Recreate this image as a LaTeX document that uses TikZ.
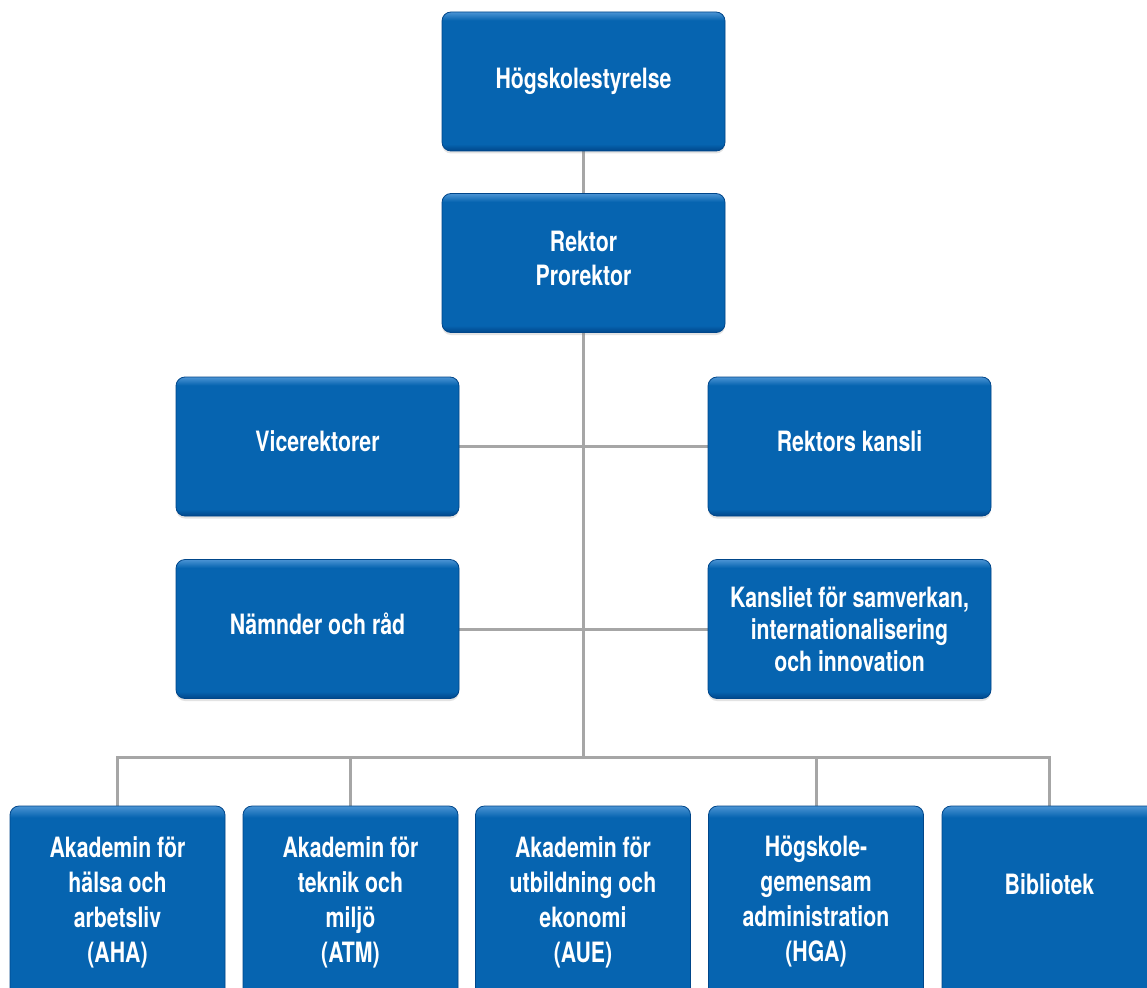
\documentclass[tikz,border=0pt]{standalone}
\usepackage{fontspec}
\newfontfamily\orgfont{TeX Gyre Heros}[FakeStretch=0.76]
\usetikzlibrary{shadows}

\definecolor{orgblue}{RGB}{6,100,176}
\definecolor{orgtop}{RGB}{75,148,212}
\definecolor{orgbot}{RGB}{0,70,138}
\definecolor{linkgray}{RGB}{166,166,166}

% box fill: thin light rim on top, thin dark rim at the bottom
\pgfdeclareverticalshading{orgshade}{100bp}{color(0bp)=(orgbot); color(25bp)=(orgbot); color(27.5bp)=(orgblue); color(72bp)=(orgblue); color(75bp)=(orgtop); color(100bp)=(orgtop)}

\tikzset{
  orgbox/.style={rounded corners=9pt, shade, shading=orgshade,
    draw=orgbot, line width=0.8pt, text=white, align=center, inner sep=0pt,
    font=\orgfont\bfseries\fontsize{28}{35}\selectfont,
    drop shadow={opacity=0.22, shadow xshift=0pt, shadow yshift=-2.5pt}},
  widebox/.style={minimum width=283pt, minimum height=139pt},
  unitbox/.style={minimum width=215pt, minimum height=192pt},
  lifttext/.style={text depth=10pt},
  boxtext/.style={text=white, align=center, inner sep=0pt,
    font=\orgfont\bfseries\fontsize{28}{35}\selectfont},
  link/.style={draw=linkgray, line width=3pt}
}

\begin{document}
\begin{tikzpicture}[x=1pt,y=-1pt]
\useasboundingbox (0,0) rectangle (1147,987);
\fill[white] (0,0) rectangle (1147,987);

% connectors
\coordinate (bus) at (583.5,757);
\coordinate (hsbot) at (583.5,151);
\coordinate (rktop) at (583.5,194);
\coordinate (rkbot) at (583.5,332);
\draw[link] (hsbot) -- (rktop);
\draw[link] (rkbot) -- (bus);
\draw[link] (459,446.5) coordinate (vrR) -- (708,446.5) coordinate (rkkL);
\draw[link] (459,629) coordinate (nrR) -- (708,629) coordinate (kfL);
\draw[link] (117.5,806) coordinate (ahaT) |- (bus) -| (1049.5,806) coordinate (bibT);
\draw[link] (350.5,806) coordinate (atmT) -- (atmT |- bus);
\draw[link] (816,806) coordinate (hgaT) -- (hgaT |- bus);

% top management
\node[orgbox,widebox] (hs) at (583.5,81.5) {Högskolestyrelse};
\node[orgbox,widebox,lifttext] (rk) at (583.5,263) {Rektor\\[-1pt]Prorektor};

% staff functions
\node[orgbox,widebox,lifttext] (vr) at (317.5,446.5) {Vicerektorer};
\node[orgbox,widebox,lifttext] (rkk) at (849.5,446.5) {Rektors kansli};
\node[orgbox,widebox,lifttext] (nr) at (317.5,629) {Nämnder och råd};
\node[orgbox,widebox,font=\orgfont\bfseries\fontsize{28}{32}\selectfont] (kf) at (849.5,629)
  {Kansliet för samverkan,\\internationalisering\\och innovation};

% academies and common units
\node[orgbox,unitbox] (aha) at (117.5,902) {Akademin för\\hälsa och\\arbetsliv\\(AHA)};
\node[orgbox,unitbox] (atm) at (350.5,902) {Akademin för\\teknik och\\miljö\\(ATM)};
\node[orgbox,unitbox] (aue) at (583,902) {Akademin för\\utbildning och\\ekonomi\\(AUE)};
\node[orgbox,unitbox] (hga) at (816,902) {Högskole-\\gemensam\\administration\\(HGA)};
\node[orgbox,unitbox] (bib) at (1049.5,902) {};
\node[boxtext] (bibtxt) at (1049.5,884) {Bibliotek};
\end{tikzpicture}
\end{document}
